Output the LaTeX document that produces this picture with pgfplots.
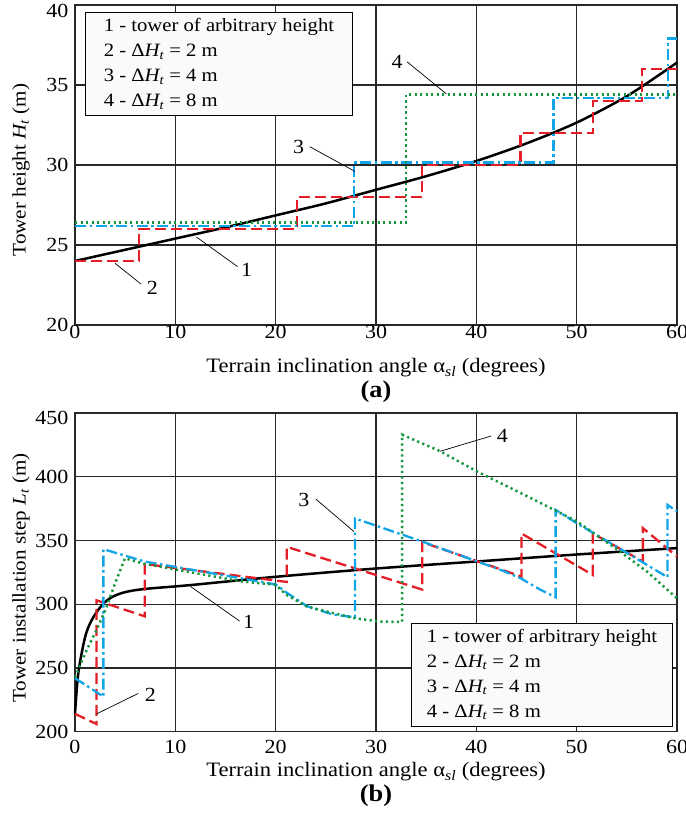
\documentclass[border=0pt]{standalone}
\usepackage{fontspec}
\setmainfont{Liberation Serif}[FakeStretch=1.1]
\usepackage{pgfplots}
\pgfplotsset{compat=1.18}

\definecolor{cred}{RGB}{228,30,38}
\definecolor{cblue}{RGB}{15,165,230}
\definecolor{cgreen}{RGB}{20,150,60}
\definecolor{cgrid}{RGB}{40,40,40}
\newcommand\ft{\fontsize{20}{24}\selectfont}
\newcommand\fl{\fontsize{20.5}{25}\selectfont}
\newcommand\fy{\fontsize{19.2}{24}\selectfont}
\newcommand\fg{\fontsize{18.8}{25}\selectfont}

\tikzset{ann/.style={black, line width=0.7pt}}
\pgfplotsset{
  panel/.style={
    scale only axis, width=602pt,
    xmin=0, xmax=60, xtick={0,10,...,60},
    grid=major, major grid style={cgrid, line width=1.1pt},
    axis line style={cgrid, line width=1.1pt},
    major tick length=0pt,
    tick label style={font=\ft},
    yticklabel style={xshift=-3pt},
    /pgf/number format/assume math mode=true,
    clip=false,
  },
  c1/.style={black, line width=2.5pt},
  c2/.style={cred, line width=2.3pt, dash pattern=on 11pt off 5pt},
  c3/.style={cblue, line width=2.3pt, dash pattern=on 11pt off 3.5pt on 2.5pt off 3.5pt},
  c4/.style={cgreen, line width=2.5pt, dash pattern=on 2.2pt off 3.3pt},
}

\begin{document}
\begin{tikzpicture}
\path[use as bounding box] (0,0) rectangle (685pt,813pt);

% (a) tower height
\begin{axis}[panel, at={(75pt,488pt)}, anchor=south west, height=320pt,
  ymin=20, ymax=40, ytick={20,25,...,35}, extra y ticks={40},
  extra y tick style={yticklabel style={yshift=-6pt}},
  xticklabel style={yshift=3pt}]
  \addplot[c1, smooth] coordinates {
    (0,24) (5,24.7) (10,25.4) (15,26.1) (20,26.85) (25,27.6) (30,28.45)
    (35,29.3) (40,30.25) (45,31.35) (50,32.65) (55,34.3) (60,36.4)};
  \addplot[c2] coordinates {
    (0,24) (6.4,24) (6.4,26) (22.1,26) (22.1,28) (34.6,28) (34.6,30)
    (44.4,30) (44.4,32) (51.6,32) (51.6,34) (56.5,34) (56.5,36) (60,36)};
  \addplot[c3] coordinates {
    (0,26.2) (27.8,26.2) (27.8,30.15) (47.7,30.15) (47.7,34.2)
    (59.1,34.2) (59.1,37.9) (60,37.9)};
  \addplot[c4] coordinates {
    (0,26.4) (33.0,26.4) (33.0,34.4) (60,34.4)};

  \draw[ann] (axis cs:12.1,25.5) -- (axis cs:16.2,23.65);
  \node[font=\ft] at (axis cs:17.1,23.45) {1};
  \draw[ann] (axis cs:4.0,23.85) -- (axis cs:6.6,22.55);
  \node[font=\ft] at (axis cs:7.7,22.3) {2};
  \draw[ann] (axis cs:23.4,31.14) -- (axis cs:27.9,29.6);
  \node[font=\ft] at (axis cs:22.3,31.14) {3};
  \draw[ann] (axis cs:33.1,36.45) -- (axis cs:37.0,34.45);
  \node[font=\ft] at (axis cs:32.1,36.45) {4};

  \node[draw=black, fill=gray!4, line width=0.9pt, anchor=north west,
        align=left, font=\fg, inner xsep=2.5pt, inner ysep=6pt, minimum width=267pt]
    at (axis cs:1.0,39.55) {1 - tower of arbitrary height\\
      2 - Δ\textit{H\textsubscript{t}} = 2 m\\
      3 - Δ\textit{H\textsubscript{t}} = 4 m\\
      4 - Δ\textit{H\textsubscript{t}} = 8 m};
\end{axis}
\node[font=\fy, rotate=90] at (21pt,643pt) {Tower height \textit{H\textsubscript{t}} (m)};
\node[font=\fl] at (376pt,445pt) {Terrain inclination angle α\textsubscript{\textit{sl}} (degrees)};
\node[font=\fontsize{24}{28}\selectfont\bfseries] at (376pt,421pt) {(a)};

% (b) installation step
\begin{axis}[panel, at={(75pt,81.3pt)}, anchor=south west, height=318.7pt,
  ymin=200, ymax=450, ytick={200,250,...,400}, extra y ticks={450},
  extra y tick style={yticklabel style={yshift=-5pt}},
  xticklabel style={yshift=-5pt}]
  \addplot[c1, smooth, tension=0.5] coordinates {
    (0,214) (0.33,246) (1,274) (1.66,287.5) (2.66,299) (3.66,305.5)
    (5,309.5) (7,312) (11.5,315) (20,321.5) (30,328) (40,333.5) (50,339) (60,344)};
  \addplot[c2] coordinates {
    (0,214) (2.15,206) (2.15,303) (6.95,290.5) (6.95,331.5) (21.1,317.5)
    (21.1,345) (34.6,311.5) (34.6,348.7) (44.5,321.7) (44.5,355.5)
    (51.6,323) (51.6,355.5) (56.6,333.5) (56.6,359.7) (60,337.4)};
  \addplot[c3] coordinates {
    (0,242) (2.83,227.5) (2.83,343.2) (6.93,333.5) (16.5,320.4) (20,315.5)
    (21.1,309) (23.1,298.5) (25.75,291.8) (27.9,289.8) (27.9,367.3)
    (34.6,349.2) (40.1,333.5) (42.4,327) (44.4,320.4) (46.4,311.3)
    (47.9,305.5) (47.9,374) (50,363.6) (54.5,342.7) (59.05,321.2)
    (59.05,378) (60,372.7)};
  \addplot[c4] coordinates {
    (0,242.5) (1.16,264) (2.16,280) (3.16,298) (4.0,316.5) (4.98,336)
    (6.9,331.7) (16.5,318) (20,315.2) (21.1,307.3) (23.1,298.2)
    (25.75,293) (27.9,289) (30.4,286.4) (32.6,286) (32.6,433)
    (36.4,420) (40.1,404) (45,385) (50,365) (54.3,341.5) (57,325.6) (60,304.7)};

  \draw[ann] (axis cs:11.5,314) -- (axis cs:16.4,286.8);
  \node[font=\ft] at (axis cs:17.3,286) {1};
  \draw[ann] (axis cs:2.16,214) -- (axis cs:6.3,230);
  \node[font=\ft] at (axis cs:7.5,229) {2};
  \draw[ann] (axis cs:24,382.5) -- (axis cs:27.8,357);
  \node[font=\ft] at (axis cs:22.8,382) {3};
  \draw[ann] (axis cs:41.5,432) -- (axis cs:36.4,420);
  \node[font=\ft] at (axis cs:42.6,432) {4};

  \node[draw=black, fill=gray!4, line width=0.9pt, anchor=north west,
        align=left, font=\fg, inner xsep=2.5pt, inner ysep=6pt, minimum width=261pt]
    at (axis cs:33.5,285.6) {1 - tower of arbitrary height\\
      2 - Δ\textit{H\textsubscript{t}} = 2 m\\
      3 - Δ\textit{H\textsubscript{t}} = 4 m\\
      4 - Δ\textit{H\textsubscript{t}} = 8 m};
\end{axis}
\node[font=\fy, rotate=90] at (21pt,235pt) {Tower installation step \textit{L\textsubscript{t}} (m)};
\node[font=\fl] at (376pt,41pt) {Terrain inclination angle α\textsubscript{\textit{sl}} (degrees)};
\node[font=\fontsize{24}{28}\selectfont\bfseries] at (376pt,17pt) {(b)};
\end{tikzpicture}
\end{document}
